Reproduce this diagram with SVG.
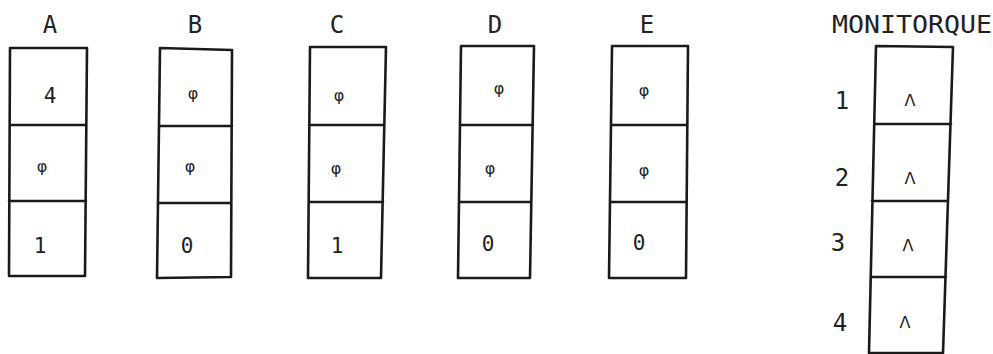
<svg xmlns="http://www.w3.org/2000/svg" width="993" height="354" viewBox="0 0 993 354">
<style>
.box{fill:none;stroke:#1a1a1a;stroke-width:2.6;stroke-linejoin:round;stroke-linecap:round}
.lbl{font-family:"DejaVu Sans Mono","Liberation Mono",monospace;font-size:24px;fill:#222;text-anchor:middle}
.dig{font-family:"DejaVu Sans Mono","Liberation Mono",monospace;font-size:21px;fill:#222;text-anchor:middle}
.phi{font-family:"DejaVu Sans","Liberation Sans",sans-serif;font-size:16px;fill:#222;text-anchor:middle}
.lam{font-family:"DejaVu Sans","Liberation Sans",sans-serif;font-size:16px;fill:#222;text-anchor:middle}
.num{font-family:"DejaVu Sans Mono","Liberation Mono",monospace;font-size:24px;fill:#222;text-anchor:middle}
</style>
<rect width="993" height="354" fill="#ffffff"/>
<g id="A">
<text class="lbl" x="50" y="33">A</text>
<path class="box" d="M10,48 L87,48 L85,276 L9,276 Z M10,125 L86,125 M9,201 L86,201"/>
<text class="dig" x="50" y="103">4</text>
<text class="phi" x="42" y="172">φ</text>
<text class="dig" x="40" y="253">1</text>
</g>
<g id="B">
<text class="lbl" x="195" y="33">B</text>
<path class="box" d="M160,48 L232,50 L231,277 L157,278 Z M159,126 L232,126 M158,203 L231,203"/>
<text class="phi" x="193" y="99">φ</text>
<text class="phi" x="190" y="172">φ</text>
<text class="dig" x="187" y="253">0</text>
</g>
<g id="C">
<text class="lbl" x="337" y="33">C</text>
<path class="box" d="M310,47 L386,47 L381,278 L308,278 Z M309,125 L384,125 M309,202 L383,202"/>
<text class="phi" x="339" y="101">φ</text>
<text class="phi" x="336" y="174">φ</text>
<text class="dig" x="337" y="253">1</text>
</g>
<g id="D">
<text class="lbl" x="495" y="33">D</text>
<path class="box" d="M461,46 L534,46 L530,278 L458,278 Z M461,125 L533,125 M460,202 L531,202"/>
<text class="phi" x="499" y="94">φ</text>
<text class="phi" x="490" y="174">φ</text>
<text class="dig" x="488" y="251">0</text>
</g>
<g id="E">
<text class="lbl" x="647" y="33">E</text>
<path class="box" d="M612,46 L688,46 L686,278 L609,278 Z M611,125 L687,125 M610,202 L686,202"/>
<text class="phi" x="644" y="96">φ</text>
<text class="phi" x="644" y="176">φ</text>
<text class="dig" x="639" y="250">0</text>
</g>
<g id="MONITORQUE">
<text class="lbl" x="912" y="33" textLength="160" lengthAdjust="spacingAndGlyphs">MONITORQUE</text>
<path class="box" d="M876,46 L953,47 L943,353 L869,353 Z M875,124 L951,124 M872,201 L948,201 M871,277 L946,277"/>
<text class="num" x="842" y="109">1</text>
<text class="num" x="842" y="186">2</text>
<text class="num" x="838" y="251">3</text>
<text class="num" x="840" y="331">4</text>
<text class="lam" x="910" y="106">Λ</text>
<text class="lam" x="910" y="184">Λ</text>
<text class="lam" x="908" y="251">Λ</text>
<text class="lam" x="905" y="328">Λ</text>
</g>
<g id="connectors"></g>
</svg>
